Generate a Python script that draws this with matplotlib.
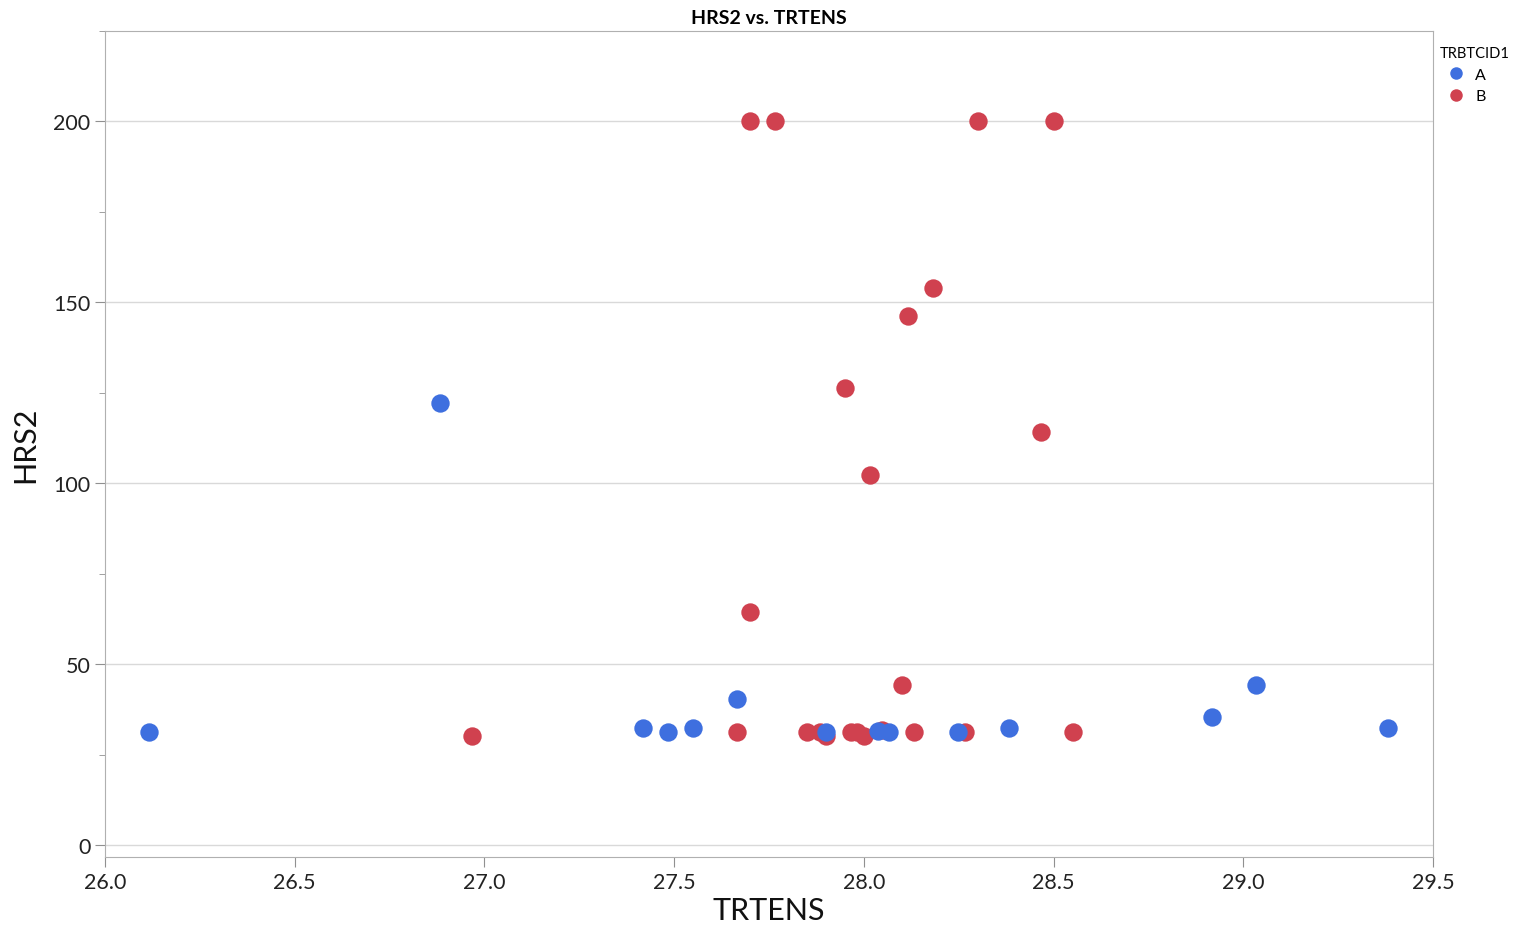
import matplotlib.pyplot as plt
from matplotlib.lines import Line2D
from matplotlib.ticker import MultipleLocator

plt.rcParams['font.family'] = ['Lato', 'DejaVu Sans']

# group A (blue)
a_trtens = [26.116, 26.883, 27.418, 27.484, 27.550, 27.666, 27.900, 28.037,
            28.066, 28.247, 28.383, 28.918, 29.034, 29.382]
a_hrs2 = [31.2, 122.1, 32.3, 31.2, 32.3, 40.3, 31.2, 31.6,
          31.2, 31.2, 32.3, 35.4, 44.2, 32.3]

# group B (red)
b_trtens = [27.700, 27.766, 28.301, 28.501, 28.182, 28.116, 27.950, 28.467,
            28.016, 27.700, 28.101, 26.967, 27.666, 27.849, 27.884, 27.900,
            27.965, 27.981, 28.000, 28.047, 28.132, 28.267, 28.551]
b_hrs2 = [200, 200, 200, 200, 154.1, 146.1, 126.2, 114.1,
          102.2, 64.4, 44.2, 30.1, 31.2, 31.2, 31.2, 30.1,
          31.2, 31.2, 30.1, 31.7, 31.2, 31.2, 31.2]

groups = ['A', 'B']
colors = {'A': '#3E6FDF', 'B': '#D0414F'}

fig = plt.figure(figsize=(15.13, 9.37), dpi=100)
ax = fig.add_axes([0.0694, 0.0843, 0.8777, 0.8815])

ax.scatter(b_trtens, b_hrs2, s=175, color=colors['B'], linewidths=0, zorder=3)
ax.scatter(a_trtens, a_hrs2, s=175, color=colors['A'], linewidths=0, zorder=3)

ax.set_xlim(26.0, 29.5)
ax.set_ylim(-3.3, 225)
ax.xaxis.set_major_locator(MultipleLocator(0.5))
ax.yaxis.set_major_locator(MultipleLocator(50))
ax.yaxis.set_minor_locator(MultipleLocator(25))
ax.xaxis.set_major_formatter(plt.FormatStrFormatter('%.1f'))
ax.grid(axis='y', which='major', color='#d9d9d9', linewidth=1)
ax.set_axisbelow(True)

for s in ax.spines.values():
    s.set_color('#b0b0b0')
ax.tick_params(axis='both', which='both', color='#909090', labelsize=15.5, labelcolor='#222222')
ax.tick_params(axis='both', which='major', length=7)
ax.tick_params(axis='y', which='minor', length=4)

ax.set_xlabel('TRTENS', fontsize=22, color='#111111', labelpad=3)
ax.set_ylabel('HRS2', fontsize=22, color='#111111', labelpad=10)
ax.set_title('HRS2 vs. TRTENS', fontsize=14, fontweight='bold', pad=6)

handles = [Line2D([], [], marker='o', linestyle='', markersize=9,
                  markerfacecolor=colors[g], markeredgewidth=0, label=g) for g in groups]
leg = ax.legend(handles=handles, title='TRBTCID1', loc='upper left',
                bbox_to_anchor=(1.0, 0.99), frameon=False, fontsize=11.5,
                title_fontsize=10.5, handletextpad=0.2, labelspacing=0.45,
                borderaxespad=0.15, borderpad=0.3)
leg._legend_box.align = 'left'

fig.savefig('out.png', dpi=100)
